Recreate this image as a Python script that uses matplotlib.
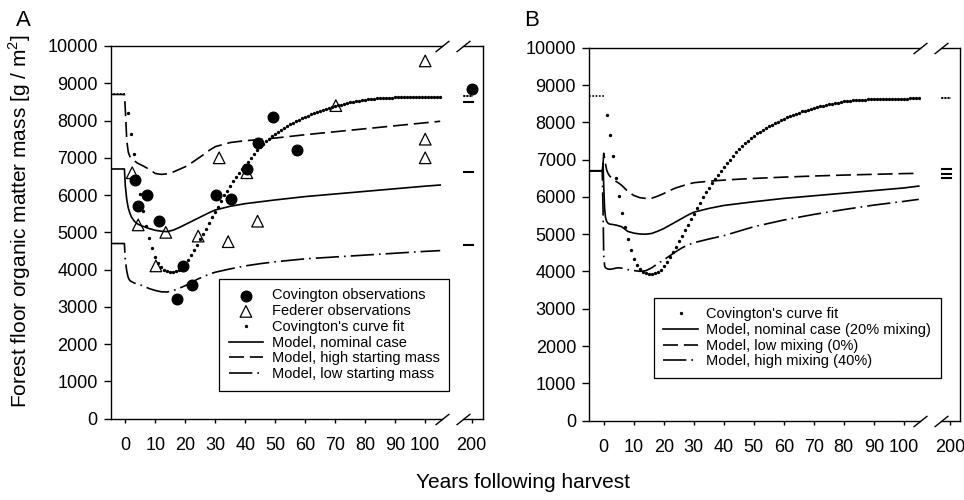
import matplotlib.pyplot as plt

plt.rcParams['font.family'] = ['Liberation Sans', 'DejaVu Sans']
plt.rcParams['mathtext.fontset'] = 'custom'
plt.rcParams['mathtext.rm'] = 'Liberation Sans'

# ---- observations (panel A) ----
cov_obs_years = [3.2, 4.3, 7.2, 11.3, 17.3, 19.1, 22.1, 30.3, 35.1, 40.5, 44.1, 49.3, 57.1, 200]
cov_obs_mass = [6400, 5700, 6000, 5300, 3200, 4100, 3600, 6000, 5900, 6700, 7400, 8100, 7200, 8850]
fed_obs_years = [2.3, 4.3, 10.2, 13.5, 24.3, 31.3, 34.3, 40.5, 44.1, 70.2, 100, 100, 100]
fed_obs_mass = [6600, 5200, 4100, 5000, 4900, 7000, 4750, 6600, 5300, 8400, 9600, 7500, 7000]

# ---- Covington's curve fit (one dot per year) ----
fit_pre_years = [-5, 0]
fit_pre_mass = [8700, 8700]
fit_years = list(range(1, 106))
fit_mass = [8200, 7650, 7100, 6500, 6020, 5570, 5180, 4860, 4570, 4340,
            4170, 4060, 3990, 3950, 3930, 3935, 3960, 3995, 4050, 4150,
            4260, 4390, 4520, 4660, 4810, 4960, 5100, 5250, 5400, 5540,
            5690, 5840, 5990, 6120, 6250, 6370, 6490, 6600, 6700, 6800,
            6900, 7000, 7100, 7200, 7290, 7370, 7440, 7510, 7580, 7640,
            7700, 7750, 7800, 7850, 7900, 7940, 7980, 8020, 8060, 8100,
            8130, 8170, 8200, 8230, 8260, 8290, 8310, 8340, 8360, 8390,
            8410, 8430, 8450, 8470, 8490, 8500, 8515, 8530, 8545, 8560,
            8570, 8578, 8585, 8592, 8598, 8604, 8608, 8612, 8616, 8619,
            8622, 8624, 8626, 8628, 8630, 8632, 8633, 8635, 8636, 8637,
            8638, 8639, 8640, 8641, 8642]

# ---- model runs, panel A ----
yrs_a = [-5, -0.3, 0, 0.5, 1, 1.5, 2, 3, 4, 5, 6, 8, 10, 12, 14, 16, 18, 20, 22, 24,
         26, 28, 30, 35, 40, 45, 50, 60, 70, 80, 90, 100, 105]
nominal_a = [6700, 6700, 6250, 5870, 5650, 5520, 5420, 5300, 5230, 5190,
             5160, 5100, 5055, 5030, 5020, 5060, 5130, 5210, 5290, 5370,
             5450, 5530, 5600, 5700, 5770, 5820, 5870, 5960, 6030, 6100,
             6170, 6240, 6270]
high_a = [8700, 8700, 8300, 7450, 7150, 7040, 6980, 6920, 6860, 6820,
          6780, 6690, 6580, 6555, 6570, 6620, 6690, 6760, 6860, 6970,
          7080, 7200, 7300, 7410, 7460, 7490, 7530, 7620, 7700, 7780,
          7860, 7940, 7980]
low_a = [4700, 4700, 4250, 3950, 3780, 3710, 3680, 3640, 3610, 3590,
         3560, 3490, 3440, 3405, 3400, 3440, 3500, 3570, 3650, 3740,
         3810, 3880, 3930, 4020, 4100, 4160, 4210, 4290, 4340, 4390,
         4440, 4490, 4510]

# ---- model runs, panel B ----
yrs_b = [-5, -0.5, -0.2, 0, 0.3, 0.6, 1, 1.5, 2, 3, 4, 5, 6, 7, 8, 10, 12, 14, 16, 18,
         20, 22, 24, 26, 28, 30, 35, 40, 45, 50, 60, 70, 80, 90, 100, 105]
nominal_b = [6700, 6700, 6900, 6300, 5700, 5450, 5340, 5290, 5270, 5260,
             5245, 5225, 5200, 5140, 5075, 5030, 5005, 5000, 5020, 5080,
             5150, 5240, 5330, 5420, 5510, 5590, 5690, 5770, 5820, 5870,
             5960, 6030, 6100, 6170, 6240, 6290]
lowmix_b = [6700, 6700, 6900, 7170, 7050, 6880, 6720, 6620, 6560, 6480,
            6420, 6370, 6310, 6230, 6150, 6040, 5980, 5960, 5965, 6020,
            6090, 6170, 6240, 6290, 6340, 6380, 6420, 6450, 6475, 6495,
            6530, 6560, 6585, 6605, 6625, 6632]
highmix_b = [6700, 6700, 5600, 4450, 4150, 4100, 4080, 4065, 4060, 4070,
             4090, 4100, 4090, 4070, 4050, 4025, 4005, 4020, 4100, 4210,
             4310, 4420, 4530, 4630, 4710, 4770, 4870, 4960, 5080, 5200,
             5380, 5530, 5660, 5780, 5880, 5935]

# steady state values shown at year 200
ss_years = [195, 200.3]
ss_a = {'fit': 8670, 'high': 8500, 'nominal': 6610, 'low': 4660}
ss_b = {'fit': 8660, 'lowmix': 6750, 'nominal': 6620, 'highmix': 6500}

W, H = 964, 500
fig = plt.figure(figsize=(W / 100, H / 100), dpi=100)


def box(left, right, top, bottom):
    return [left / W, 1 - bottom / H, (right - left) / W, (bottom - top) / H]


DASH = (0, (9, 3.5))
DASHDOT = (0, (14, 3, 1, 3))
LW = 1.2
TICK_FS = 13


def setup(ax, axr, xlim, xlim_r):
    for a in (ax, axr):
        a.set_ylim(0, 10000)
        for s in a.spines.values():
            s.set_linewidth(1.0)
    ax.set_xlim(*xlim)
    axr.set_xlim(*xlim_r)
    ax.spines['right'].set_visible(False)
    axr.spines['left'].set_visible(False)
    ax.set_xticks(range(0, 101, 10))
    axr.set_xticks([200])
    ax.set_yticks(range(0, 10001, 1000))
    axr.set_yticks([])
    ax.tick_params(axis='y', direction='out', length=5, width=1, labelsize=TICK_FS, pad=4.5)
    for a in (ax, axr):
        a.tick_params(axis='x', direction='out', length=3, width=1, labelsize=TICK_FS, pad=10)
    kw = dict(marker=[(-1, -0.8), (1, 0.8)], markersize=10, linestyle='none',
              color='k', mec='k', mew=1, clip_on=False)
    ax.plot([1, 1], [0, 1], transform=ax.transAxes, **kw)
    axr.plot([0, 0], [0, 1], transform=axr.transAxes, **kw)


def fit_curve(ax, axr, ss):
    ax.plot(fit_pre_years, fit_pre_mass, color='k', lw=1.2, linestyle=(0, (1, 1)))
    h, = ax.plot(fit_years, fit_mass, linestyle='none', marker='o', markersize=1.4,
                 color='k', label="Covington's curve fit")
    axr.plot(ss_years, [ss, ss], color='k', lw=1.5, linestyle=(0, (1, 0.5)))
    return h


# ---------------- panel A ----------------
axA = fig.add_axes(box(111, 441.7, 46, 418.7))
axAr = fig.add_axes(box(463, 482.7, 46, 418.7))
setup(axA, axAr, (-4.77, 105.5), (197.1, 203.7))

h_cov = axA.scatter(cov_obs_years[:-1], cov_obs_mass[:-1], s=58, color='k', zorder=5,
                    label='Covington observations')
axAr.scatter(cov_obs_years[-1:], cov_obs_mass[-1:], s=58, color='k', zorder=5, clip_on=False)
h_fed = axA.scatter(fed_obs_years, fed_obs_mass, s=70, marker='^', facecolors='none',
                    edgecolors='k', linewidths=0.9, zorder=5, label='Federer observations')
h_fitA = fit_curve(axA, axAr, ss_a['fit'])
h_nomA, = axA.plot(yrs_a, nominal_a, color='k', lw=LW, label='Model, nominal case')
h_highA, = axA.plot(yrs_a, high_a, color='k', lw=LW, linestyle=DASH,
                    label='Model, high starting mass')
h_lowA, = axA.plot(yrs_a, low_a, color='k', lw=LW, linestyle=DASHDOT,
                   label='Model, low starting mass')
for key in ('high', 'nominal', 'low'):
    axAr.plot(ss_years, [ss_a[key], ss_a[key]], color='k', lw=1.5)

legA = fig.legend(handles=[h_cov, h_fed, h_fitA, h_nomA, h_highA, h_lowA],
                  loc='upper left', bbox_to_anchor=(219.3 / W, 1 - 279 / H),
                  fontsize=10.5, frameon=True, fancybox=False, edgecolor='k',
                  framealpha=1, borderpad=0.65, labelspacing=0.12, handlelength=2.35,
                  handletextpad=0.6, borderaxespad=0, scatterpoints=1)
legA.get_frame().set_linewidth(0.9)

# ---------------- panel B ----------------
axB = fig.add_axes(box(589.3, 920, 47.7, 420.7))
axBr = fig.add_axes(box(941, 960, 47.7, 420.7))
setup(axB, axBr, (-4.8, 105.4), (197, 203.3))

h_fitB = fit_curve(axB, axBr, ss_b['fit'])
h_nomB, = axB.plot(yrs_b, nominal_b, color='k', lw=LW,
                   label='Model, nominal case (20% mixing)')
h_lowB, = axB.plot(yrs_b, lowmix_b, color='k', lw=LW, linestyle=DASH,
                   label='Model, low mixing (0%)')
h_highB, = axB.plot(yrs_b, highmix_b, color='k', lw=LW, linestyle=DASHDOT,
                    label='Model, high mixing (40%)')
for key in ('lowmix', 'nominal', 'highmix'):
    axBr.plot(ss_years, [ss_b[key], ss_b[key]], color='k', lw=1.5)

legB = fig.legend(handles=[h_fitB, h_nomB, h_lowB, h_highB],
                  loc='upper left', bbox_to_anchor=(654 / W, 1 - 297.7 / H),
                  fontsize=10.5, frameon=True, fancybox=False, edgecolor='k',
                  framealpha=1, borderpad=0.65, labelspacing=0.12, handlelength=2.35,
                  handletextpad=0.6, borderaxespad=0)
legB.get_frame().set_linewidth(0.9)

# ---------------- labels ----------------
fig.text(23.5 / W, 1 - 21 / H, 'A', fontsize=16, ha='center', va='center')
fig.text(532 / W, 1 - 21 / H, 'B', fontsize=16, ha='center', va='center')
fig.text(20 / W, 1 - 221.5 / H, 'Forest floor organic matter mass [g / m$^{2}$]',
         rotation=90, fontsize=15, ha='center', va='center')
fig.text(523 / W, 1 - 482 / H, 'Years following harvest', fontsize=15,
         ha='center', va='center')

fig.savefig('out.png', dpi=100)
